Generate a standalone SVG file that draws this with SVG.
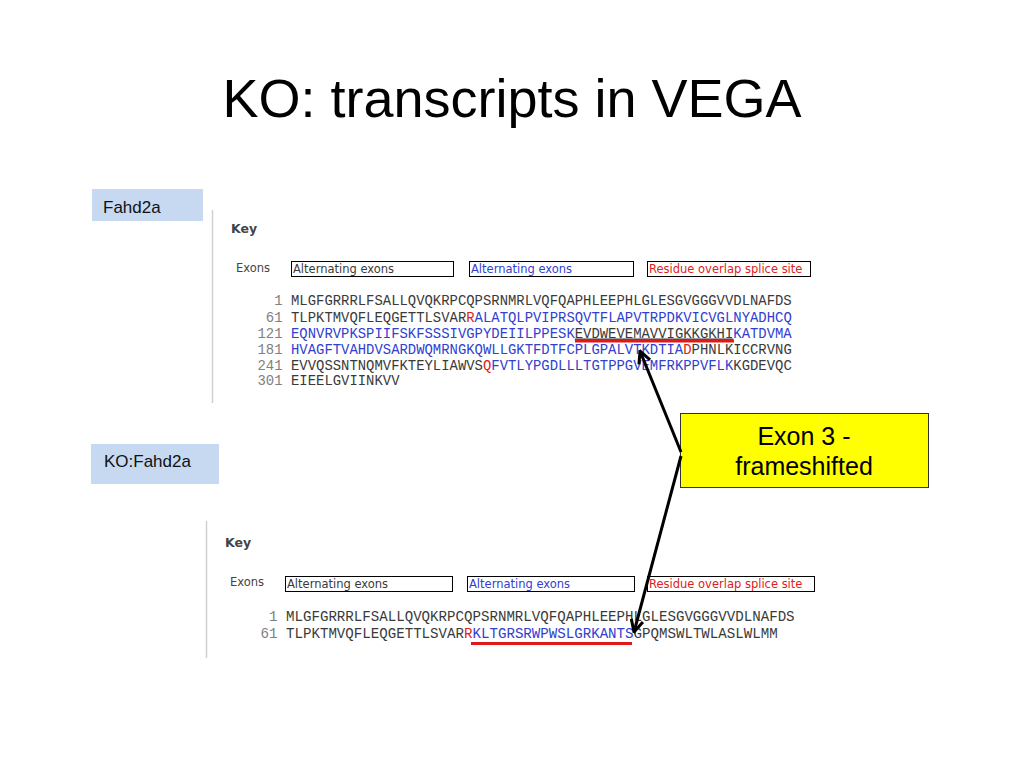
<svg xmlns="http://www.w3.org/2000/svg" width="1024" height="768" viewBox="0 0 1024 768">
<style>
.title{font-family:"Liberation Sans",Arial,sans-serif;font-size:54px;fill:#000}
.lbl{font-family:"Liberation Sans",Arial,sans-serif;font-size:17px;fill:#111}
.lblbox{fill:#c6d9f0}
.key{font-family:"DejaVu Sans",Verdana,sans-serif;font-size:12.5px;font-weight:bold;fill:#444}
.exons{font-family:"DejaVu Sans",Verdana,sans-serif;font-size:11.5px;fill:#444}
.kbox{fill:#fff;stroke:#000;stroke-width:1}
.ktxt{font-family:"DejaVu Sans",Verdana,sans-serif;font-size:11.5px}
.seqA{font-family:"Liberation Mono","Courier New",monospace;font-size:13.92px;fill:#3a3a3a}
.seqB{font-family:"Liberation Mono","Courier New",monospace;font-size:14.13px;fill:#3a3a3a}
.num{fill:#808080}
.b{fill:#3040d0}
.r{fill:#e02020}
.k{fill:#3a3a3a}
.sep{stroke:#d0d0d0;stroke-width:1.5}
.ul{stroke:#e01818;stroke-width:3}
.callbox{fill:#ffff00;stroke:#333;stroke-width:1}
.calltxt{font-family:"Liberation Sans",Arial,sans-serif;font-size:25px;fill:#000}
.conn{stroke:#000;stroke-width:3;fill:none}
</style>
<defs>
<marker id="arr" viewBox="0 0 10 10" refX="9" refY="5" markerWidth="5" markerHeight="5" orient="auto" markerUnits="strokeWidth">
<path d="M1,1 L9,5 L1,9" fill="none" stroke="#000" stroke-width="2"/>
</marker>
</defs>
<rect width="1024" height="768" fill="#fff"/>
<g id="title"><text class="title" x="512" y="117" text-anchor="middle">KO: transcripts in VEGA</text></g>

<g id="label-fahd2a"><rect class="lblbox" x="92" y="189" width="111" height="32"/><text class="lbl" x="103" y="213">Fahd2a</text></g>
<g id="label-ko-fahd2a"><rect class="lblbox" x="91" y="444" width="128" height="40"/><text class="lbl" x="104" y="467">KO:Fahd2a</text></g>

<g id="panel-top">
<line class="sep" x1="212.5" y1="210" x2="212.5" y2="403"/>
<text class="key" x="231" y="233">Key</text>
<text class="exons" x="236" y="272">Exons</text>
<rect class="kbox" x="291.5" y="261.5" width="162" height="15"/>
<text class="ktxt k" x="293" y="273">Alternating exons</text>
<rect class="kbox" x="469.5" y="261.5" width="164" height="15"/>
<text class="ktxt b" x="471" y="273">Alternating exons</text>
<rect class="kbox" x="647.5" y="261.5" width="163" height="15"/>
<text class="ktxt r" x="649" y="273">Residue overlap splice site</text>
<g class="seqA">
<text class="num" x="282.5" y="305" text-anchor="end">1</text>
<text class="num" x="282.5" y="321.5" text-anchor="end">61</text>
<text class="num" x="282.5" y="337.5" text-anchor="end">121</text>
<text class="num" x="282.5" y="353.5" text-anchor="end">181</text>
<text class="num" x="282.5" y="369.5" text-anchor="end">241</text>
<text class="num" x="282.5" y="385" text-anchor="end">301</text>
<text x="291" y="305">MLGFGRRRLFSALLQVQKRPCQPSRNMRLVQFQAPHLEEPHLGLESGVGGGVVDLNAFDS</text>
<text x="291" y="321.5"><tspan class="k">TLPKTMVQFLEQGETTLSVAR</tspan><tspan class="r">R</tspan><tspan class="b">ALATQLPVIPRSQVTFLAPVTRPDKVICVGLNYADHCQ</tspan></text>
<text x="291" y="337.5"><tspan class="b">EQNVRVPKSPIIFSKFSSSIVGPYDEIILPPESK</tspan><tspan class="k" text-decoration="underline">EVDWEVEMAVVIGKKGKHI</tspan><tspan class="b">KATDVMA</tspan></text>
<text x="291" y="353.5"><tspan class="b">HVAGFTVAHDVSARDWQMRNGKQWLLGKTFDTFCPLGPALVTKDTIA</tspan><tspan class="r">D</tspan><tspan class="k">PHNLKICCRVNG</tspan></text>
<text x="291" y="369.5"><tspan class="k">EVVQSSNTNQMVFKTEYLIAWVS</tspan><tspan class="r">Q</tspan><tspan class="b">FVTLYPGDLLLTGTPPGVEMFRKPPVFLK</tspan><tspan class="k">KGDEVQC</tspan></text>
<text x="291" y="385">EIEELGVIINKVV</text>
</g>
<line class="ul" x1="575" y1="341" x2="734" y2="341"/>
</g>

<g id="panel-bottom">
<line class="sep" x1="206.5" y1="521" x2="206.5" y2="658"/>
<text class="key" x="225" y="547">Key</text>
<text class="exons" x="230" y="586">Exons</text>
<rect class="kbox" x="285.5" y="576.5" width="167" height="15"/>
<text class="ktxt k" x="287" y="588">Alternating exons</text>
<rect class="kbox" x="467.5" y="576.5" width="167" height="15"/>
<text class="ktxt b" x="469" y="588">Alternating exons</text>
<rect class="kbox" x="647.5" y="576.5" width="167" height="15"/>
<text class="ktxt r" x="649" y="588">Residue overlap splice site</text>
<g class="seqB">
<text class="num" x="277.5" y="621" text-anchor="end">1</text>
<text class="num" x="277.5" y="638" text-anchor="end">61</text>
<text x="286" y="621">MLGFGRRRLFSALLQVQKRPCQPSRNMRLVQFQAPHLEEPHLGLESGVGGGVVDLNAFDS</text>
<text x="286" y="638"><tspan class="k">TLPKTMVQFLEQGETTLSVAR</tspan><tspan class="r">R</tspan><tspan class="b">KLTGRSRWPWSLGRKANTS</tspan><tspan class="k">GPQMSWLTWLASLWLMM</tspan></text>
</g>
<line class="ul" x1="471" y1="643.5" x2="632" y2="643.5"/>
</g>

<g id="callout"><rect class="callbox" x="680.5" y="413.5" width="248" height="74"/>
<text class="calltxt" x="804" y="445" text-anchor="middle">Exon 3 -</text>
<text class="calltxt" x="804" y="475" text-anchor="middle">frameshifted</text></g>

<g id="connectors">
<line class="conn" x1="681" y1="452" x2="640" y2="351" marker-end="url(#arr)"/>
<line class="conn" x1="681" y1="456" x2="634" y2="632" marker-end="url(#arr)"/>
</g>
</svg>
